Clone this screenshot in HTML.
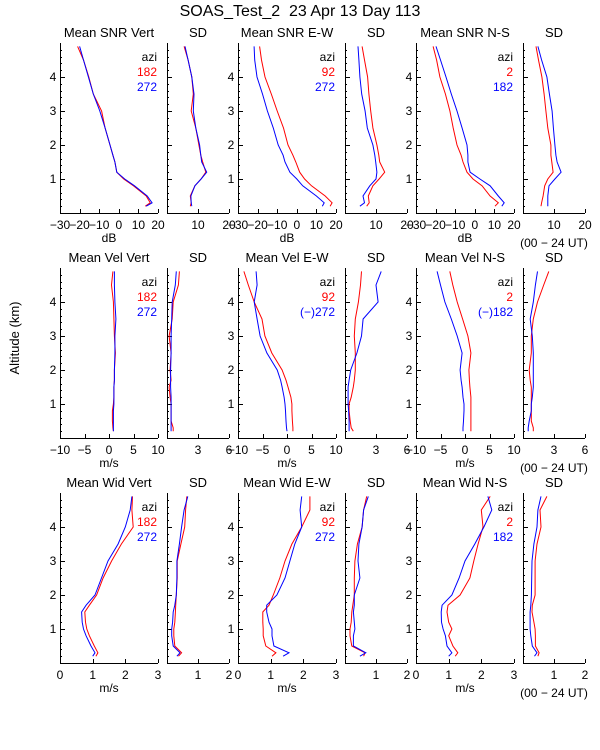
<!DOCTYPE html>
<html><head><meta charset="utf-8">
<style>
html,body{margin:0;padding:0;background:#fff;}
svg{display:block;font-family:"Liberation Sans",sans-serif;}
</style></head>
<body>
<svg id="chart" width="600" height="750" viewBox="0 0 600 750" xmlns="http://www.w3.org/2000/svg">
<rect width="600" height="750" fill="#fff"/>
<text x="300" y="16" font-size="16" text-anchor="middle" style="white-space:pre" xml:space="preserve">SOAS_Test_2  23 Apr 13 Day 113</text>
<text x="0" y="0" font-size="13" text-anchor="middle" transform="translate(19,338) rotate(-90)">Altitude (km)</text>
<g id="plots"></g>
</svg>
<script>
const altitudes = [0.2,0.3,0.5,0.8,1.0,1.2,1.5,1.7,2.0,2.5,3.0,3.5,4.0,4.5,4.9];
// Row 1: SNR (dB) and SD
const snrVertRed  = [13.5,16,14,7.5,2.5,-1,-2,-3,-4.5,-7,-8.8,-13,-15.3,-18,-21];
const snrVertBlue = [14,17,14.5,8,3,-1,-2,-3,-4.5,-7,-9.7,-13,-15.5,-18,-20];
const snrVertSdRed  = [7.5,7.8,7.5,9,11,12.5,11.5,10.9,10.3,9.3,7.8,8.5,8,6.8,5.5];
const snrVertSdBlue = [8,7.8,7.7,9,11,12.8,11.2,10.9,10.5,9.3,8.5,8.7,8,6.8,5.8];
const snrEwRed  = [17,18,14.5,7.5,4,1.5,-0.5,-2,-4.5,-6.8,-10,-13,-16.2,-18,-19];
const snrEwBlue = [13,14,10,3,0,-3.5,-6,-7,-9.5,-12,-15,-17.5,-20.3,-21.5,-21.8];
const snrEwSdRed  = [7,7.8,7.5,9,11,12.8,11.2,10.9,10.3,9,8.3,7.7,7.3,6.3,5.5];
const snrEwSdBlue = [4.8,6.3,5.8,8,10,10.3,9.9,9.6,9,7.2,6.5,5.4,4.8,4.5,4.2];
const snrNsRed  = [10.3,12,7.8,3.7,-0.9,-4,-6,-7,-9.1,-11,-12.7,-15,-17.8,-19.5,-21.3];
const snrNsBlue = [13.8,15,12,7.8,2.6,-2.4,-3.5,-3.5,-4,-6.5,-9.1,-12,-14.7,-17.5,-19.8];
const snrNsSdRed  = [5.8,6,6.5,7,8,9.7,9.3,9,9,8,7.4,6.8,6.1,5,4.2];
const snrNsSdBlue = [8,8,8,8.4,10.3,12.3,11,10.6,10.3,9.8,9.4,8.5,7.7,6,4.8];
// Row 2: velocity (m/s)
const velVertRed  = [0.9,0.8,0.7,0.7,0.9,1,1,1.1,1.1,1.3,1.1,1.0,0.9,0.5,0.8];
const velVertBlue = [0.9,0.9,0.9,0.9,1,1,1,1.1,1.1,1.2,1.2,1.4,1.2,1.1,1.1];
const velVertSdRed  = [0.6,0.6,0.4,0.4,0.4,0.3,0.2,0.4,0.3,0.4,0.2,0.5,0.6,1.1,1.2];
const velVertSdBlue = [0.4,0.4,0.4,0.4,0.4,0.4,0.35,0.35,0.35,0.4,0.4,0.45,0.5,0.8,0.9];
const velEwRed  = [1.2,1.2,1.1,1.0,1.0,0.8,0.2,-0.2,-1,-3.1,-4.5,-5.1,-6.7,-7.9,-8.8];
const velEwBlue = [0,-0.1,-0.2,-0.3,-0.4,-0.6,-1,-1.3,-2,-4.1,-5.5,-6.1,-6.7,-6.1,-6.3];
const velEwSdRed  = [0.8,0.6,0.5,0.4,0.4,0.6,0.8,0.9,1.0,1.0,0.9,1.0,1.3,1.5,1.6];
const velEwSdBlue = [0.4,0.4,0.4,0.35,0.3,0.3,0.3,0.4,0.55,1.15,1.6,1.75,3.2,3.0,3.5];
const velNsRed  = [1.2,1.2,1.2,1.2,1.2,1.2,1.0,0.9,0.8,1.2,0.6,-0.5,-1.6,-2.5,-3.1];
const velNsBlue = [-0.4,-0.4,-0.3,-0.2,-0.2,-0.4,-0.6,-0.8,-1,-0.6,-1.6,-2.8,-4.1,-5,-5.7];
const velNsSdRed  = [1.0,1.0,0.8,0.8,0.8,0.8,0.8,0.7,0.6,0.8,0.8,1.0,1.4,2.0,2.5];
const velNsSdBlue = [0.5,0.5,0.6,0.8,0.8,0.9,1.0,1.0,1.0,1.0,0.9,0.7,1.0,1.2,1.4];
// Row 3: spectral width (m/s)
const widVertRed  = [1.1,1.16,1.05,0.9,0.82,0.78,0.76,0.9,1.12,1.32,1.58,1.88,2.24,2.2,2.22];
const widVertBlue = [1.0,1.07,0.95,0.8,0.72,0.68,0.66,0.8,1.07,1.27,1.47,1.78,2.0,2.15,2.2];
const widVertSdRed  = [0.37,0.47,0.25,0.22,0.22,0.25,0.27,0.28,0.3,0.33,0.33,0.45,0.57,0.6,0.64];
const widVertSdBlue = [0.32,0.42,0.2,0.15,0.15,0.18,0.2,0.25,0.3,0.32,0.32,0.4,0.47,0.55,0.67];
const widEwRed  = [1.04,1.16,0.85,0.77,0.77,0.76,0.76,0.95,1.08,1.28,1.44,1.65,1.95,2.2,2.2];
const widEwBlue = [1.38,1.56,1.1,1.04,1.04,0.95,0.88,0.88,1.19,1.44,1.59,1.74,1.95,1.9,1.95];
const widEwSdRed  = [0.6,0.65,0.22,0.16,0.16,0.2,0.22,0.25,0.3,0.3,0.32,0.4,0.55,0.6,0.7];
const widEwSdBlue = [0.48,0.67,0.27,0.27,0.32,0.3,0.27,0.3,0.3,0.48,0.42,0.45,0.55,0.6,0.75];
const widNsRed  = [1.2,1.28,1.13,1.0,1.1,1.0,0.95,0.98,1.35,1.65,1.77,1.9,2.05,2.0,2.27];
const widNsBlue = [1.0,1.1,0.95,0.9,0.83,0.78,0.77,0.8,1.1,1.32,1.5,1.8,2.08,2.32,2.2];
const widNsSdRed  = [0.48,0.52,0.4,0.4,0.39,0.35,0.29,0.3,0.39,0.39,0.39,0.45,0.58,0.55,0.77];
const widNsSdBlue = [0.37,0.45,0.3,0.25,0.23,0.23,0.23,0.25,0.27,0.28,0.29,0.35,0.45,0.48,0.58];
// Tick labels
const altTickLabels = [1,2,3,4];
const snrTicks = [-30,-20,-10,0,10,20];
const snrSdTicks = [10,20];
const velTicks = [-10,-5,0,5,10];
const velSdTicks = [3,6];
const widTicks = [0,1,2,3];
const widSdTicks = [1,2];
const panelTitles = [["Mean SNR Vert","Mean SNR E-W","Mean SNR N-S"],["Mean Vel Vert","Mean Vel E-W","Mean Vel N-S"],["Mean Wid Vert","Mean Wid E-W","Mean Wid N-S"]];
const legendRed = [["182","92","2"],["182","92","2"],["182","92","2"]];
const legendBlue = [["272","272","182"],["272","(\u2212)272","(\u2212)182"],["272","272","182"]];
const unitLabels = ["dB","m/s","m/s"];

const NS="http://www.w3.org/2000/svg";
const root=document.getElementById('plots');
function mk(tag,attrs,parent){const e=document.createElementNS(NS,tag);for(const k in attrs)e.setAttribute(k,attrs[k]);(parent||root).appendChild(e);return e;}

const mainX=[[60,158],[238,336],[416,514]];
const sdX=[[167,229],[345,407],[523,585]];
const rowBottom=[213,438,663];
const H=170, ALT_MAX=5;
const rowDefs=[
 {main:[-30,20],sd:[0,20],mt:snrTicks,st:snrSdTicks,data:[[snrVertRed,snrVertBlue,snrVertSdRed,snrVertSdBlue],[snrEwRed,snrEwBlue,snrEwSdRed,snrEwSdBlue],[snrNsRed,snrNsBlue,snrNsSdRed,snrNsSdBlue]]},
 {main:[-10,10],sd:[0,6],mt:velTicks,st:velSdTicks,data:[[velVertRed,velVertBlue,velVertSdRed,velVertSdBlue],[velEwRed,velEwBlue,velEwSdRed,velEwSdBlue],[velNsRed,velNsBlue,velNsSdRed,velNsSdBlue]]},
 {main:[0,3],sd:[0,2],mt:widTicks,st:widSdTicks,data:[[widVertRed,widVertBlue,widVertSdRed,widVertSdBlue],[widEwRed,widEwBlue,widEwSdRed,widEwSdBlue],[widNsRed,widNsBlue,widNsSdRed,widNsSdBlue]]}
];

function drawPanel(r,x0,x1,dom,ticks,series,name,title,showAlt){
  const yb=rowBottom[r], yt=yb-H;
  const g=mk('g',{});
  
  
  const xs=v=>x0+(v-dom[0])/(dom[1]-dom[0])*(x1-x0);
  const ys=a=>yb-a/ALT_MAX*H;
  const ax=mk('path',{d:`M${x0+0.5},${yt} V${yb+0.5} H${x1}`,stroke:'#000','stroke-width':1,fill:'none','shape-rendering':'crispEdges'},g);
  
  
  let d='';
  for(let a=0.2;a<ALT_MAX;a+=0.2){const y=Math.round(ys(a))+0.5;const maj=Math.abs(a-Math.round(a))<0.01;d+=`M${x0},${y} h${maj?5:2} `;}
  ticks.forEach(t=>{const x=Math.round(xs(t))+0.5;d+=`M${x},${yb} v-4 `;});
  mk('path',{d:d,stroke:'#000','stroke-width':1,'shape-rendering':'crispEdges'},g);
  if(showAlt){altTickLabels.forEach(a=>{const t=mk('text',{x:x0-7,y:ys(a)+4,'font-size':12,'text-anchor':'middle'},g);t.textContent=a;
    
    });}
  ticks.forEach(v=>{const t=mk('text',{x:xs(v),y:yb+16,'font-size':12,'text-anchor':'middle'},g);t.textContent=String(v).replace('-','\u2212');
    
    });
  const tt=mk('text',{x:(x0+x1)/2,y:yt-6,'font-size':13,'text-anchor':'middle'},g);tt.textContent=title;
  
  
  series.forEach((vals,i)=>{
    const pts=vals.map((v,k)=>xs(v).toFixed(1)+','+ys(altitudes[k]).toFixed(1)).join(' ');
    const pl=mk('polyline',{points:pts,fill:'none',stroke:i===0?'#ff0000':'#0000ff','stroke-width':1},g);
    
    
  });
  return {xs,ys,yt,yb,g};
}

rowDefs.forEach((rd,r)=>{
  for(let c=0;c<3;c++){
    const p=drawPanel(r,mainX[c][0],mainX[c][1],rd.main,rd.mt,[rd.data[c][0],rd.data[c][1]],'mean-panel-r'+(r+1)+'c'+(c+1),panelTitles[r][c],true);
    const lx=mainX[c][1]-1;
    const l1=mk('text',{x:lx,y:p.yt+18,'font-size':12,'text-anchor':'end',fill:'#000'},p.g);l1.textContent='azi';
    
    
    const l2=mk('text',{x:lx,y:p.yt+33,'font-size':12,'text-anchor':'end',fill:'#ff0000'},p.g);l2.textContent=legendRed[r][c];
    
    
    const l3=mk('text',{x:lx,y:p.yt+48,'font-size':12,'text-anchor':'end',fill:'#0000ff'},p.g);l3.textContent=legendBlue[r][c];
    
    
    const u=mk('text',{x:(mainX[c][0]+mainX[c][1])/2,y:rowBottom[r]+29,'font-size':12,'text-anchor':'middle'},p.g);u.textContent=unitLabels[r];
    
    
    drawPanel(r,sdX[c][0],sdX[c][1],rd.sd,rd.st,[rd.data[c][2],rd.data[c][3]],'sd-panel-r'+(r+1)+'c'+(c+1),'SD',false);
  }
  const ut=mk('text',{x:554,y:rowBottom[r]+34,'font-size':12,'text-anchor':'middle'});ut.textContent='(00 \u2212 24 UT)';
  
  
});
</script>
</body></html>
